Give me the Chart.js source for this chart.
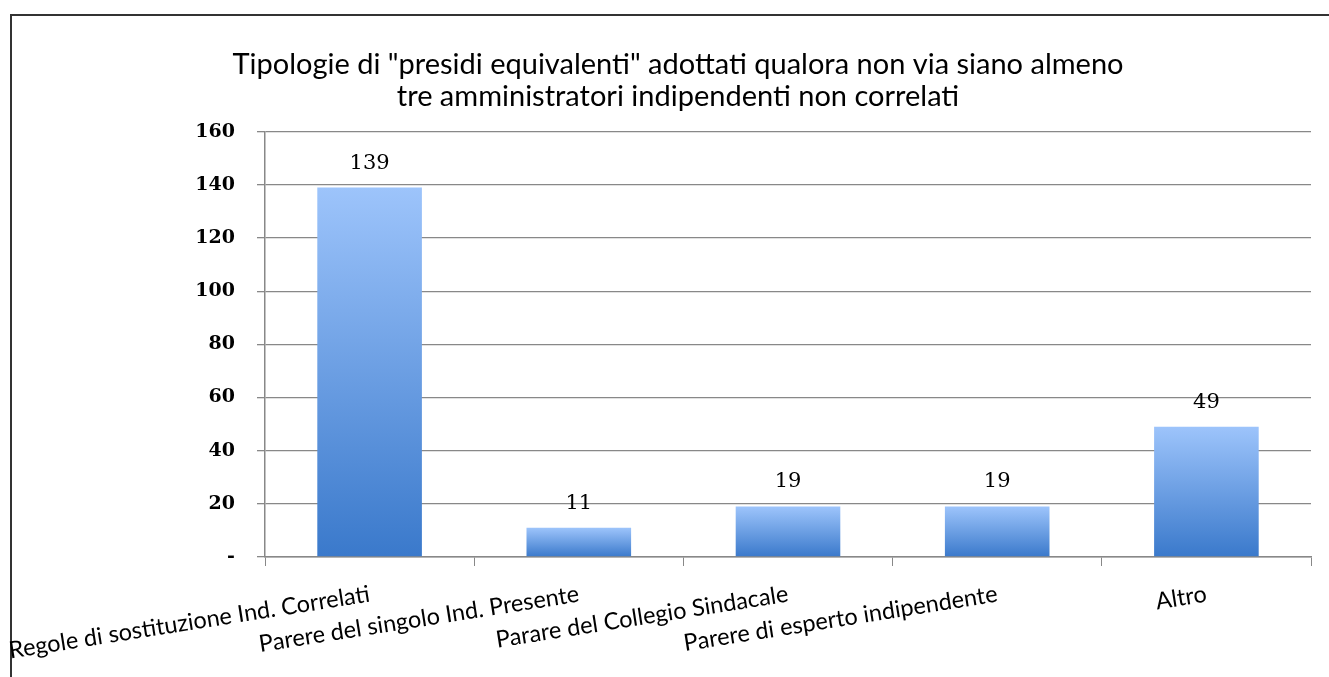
<!DOCTYPE html>
<html>
<head>
<meta charset="utf-8">
<script src="https://cdn.jsdelivr.net/npm/chart.js@4"></script>
<style>
  body { margin: 0; background: #fff; }
  #frame {
    position: absolute; left: 10px; top: 14px;
    width: 1340px; height: 700px;
    border: 2px solid #333;
  }
  #wrap { position: absolute; left: 0; top: 0; width: 1329px; height: 677px; }
</style>
</head>
<body>
<div id="frame"></div>
<div id="wrap"><canvas id="myChart" width="1329" height="677"></canvas></div>
<script>
// Dati del grafico
const categories = [
    'Regole di sostituzione Ind. Correlati',
    'Parere del singolo Ind. Presente',
    'Parare del Collegio Sindacale',
    'Parere di esperto indipendente',
    'Altro'
];
const values = [139, 11, 19, 19, 49];
const yTicks = [0, 20, 40, 60, 80, 100, 120, 140, 160];
const titleLines = [
    'Tipologie di "presidi equivalenti" adottati qualora non via siano almeno',
    'tre amministratori indipendenti non correlati'
];

// gradiente verticale per ogni barra
function barGradient(context) {
    const chart = context.chart;
    const y = chart.scales && chart.scales.y;
    if (!y || context.raw === undefined) return '#6a9fe6';
    const top = y.getPixelForValue(context.raw);
    const bottom = y.getPixelForValue(0);
    if (!isFinite(top) || !isFinite(bottom) || top === bottom) return '#6a9fe6';
    const g = chart.ctx.createLinearGradient(0, top, 0, bottom);
    g.addColorStop(0, '#9dc4fb');
    g.addColorStop(1, '#3a79cb');
    return g;
}

// etichette sopra le barre
const valueLabels = {
    id: 'valueLabels',
    afterDatasetsDraw(chart) {
        const ctx = chart.ctx;
        const meta = chart.getDatasetMeta(0);
        ctx.save();
        ctx.font = '21px "DejaVu Serif"';
        ctx.fillStyle = '#000';
        ctx.textAlign = 'center';
        ctx.textBaseline = 'bottom';
        meta.data.forEach((bar, i) => {
            ctx.fillText(values[i], bar.x, bar.y - 14);
        });
        ctx.restore();
    }
};

const ctx = document.getElementById('myChart').getContext('2d');
new Chart(ctx, {
    type: 'bar',
    data: {
        labels: categories,
        datasets: [{
            data: values,
            backgroundColor: barGradient,
            borderWidth: 0,
            categoryPercentage: 1,
            barPercentage: 0.5
        }]
    },
    options: {
        responsive: false,
        animation: false,
        layout: { padding: { left: 45, right: 18, top: 0, bottom: 0 } },
        plugins: {
            legend: { display: false },
            tooltip: { enabled: false },
            title: {
                display: true,
                text: titleLines,
                color: '#000',
                font: { family: 'Lato', size: 29, weight: 'normal', lineHeight: 1.1 },
                padding: { top: 49, bottom: 19 }
            }
        },
        scales: {
            x: {
                grid: { display: true, drawOnChartArea: false, offset: true, color: '#888', tickLength: 9 },
                border: { color: '#888', width: 1.5 },
                ticks: {
                    color: '#000',
                    font: { family: 'Lato', size: 23.5 },
                    minRotation: 9,
                    maxRotation: 9,
                    autoSkip: false,
                    padding: 14
                },
                afterFit(scale) {
                    scale.height = 120;
                    scale.paddingLeft = 0;
                    scale.paddingRight = 0;
                }
            },
            y: {
                min: 0,
                max: 160,
                afterBuildTicks(scale) { scale.ticks = yTicks.map(v => ({ value: v })); },
                grid: { color: '#888', lineWidth: 1.3, tickLength: 8 },
                border: { color: '#888', width: 1.5 },
                ticks: {
                    color: '#000',
                    font: { family: 'DejaVu Serif', size: 19, weight: 'bold' },
                    padding: 22,
                    callback: v => v === 0 ? '-' : v
                },
                afterFit(scale) {
                    scale.width = 220;
                    scale.paddingTop = 0;
                    scale.paddingBottom = 0;
                }
            }
        }
    },
    plugins: [valueLabels]
});
</script>
</body>
</html>
